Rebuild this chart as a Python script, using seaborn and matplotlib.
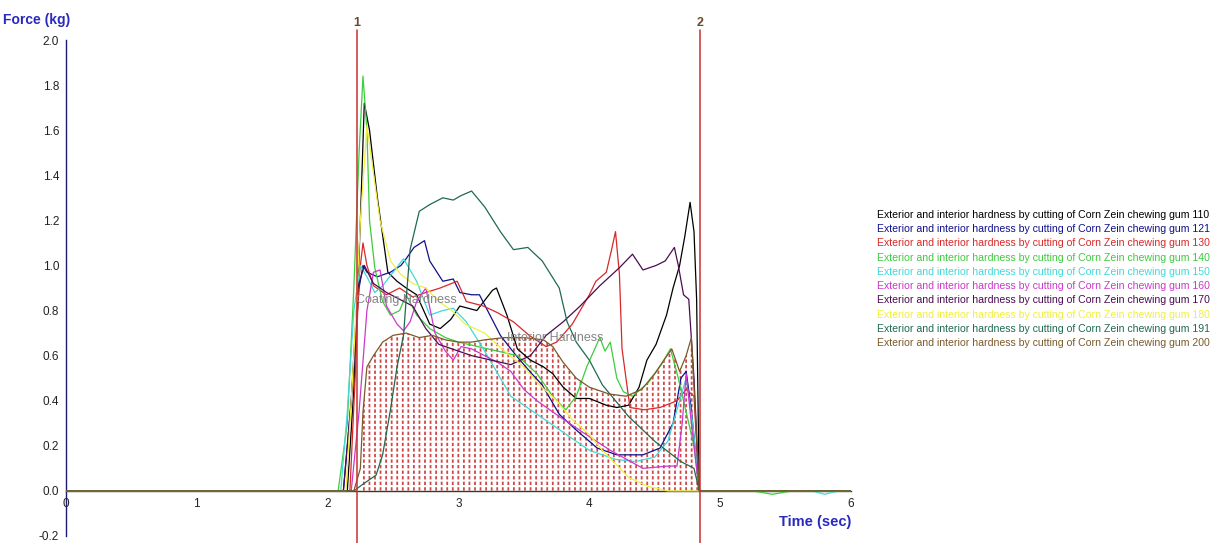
import numpy as np
import pandas as pd
import seaborn as sns
import matplotlib
matplotlib.use("Agg")
import matplotlib.pyplot as plt

# ---- data (time in sec, force in kg) ----
t110 = [0, 2.15, 2.2, 2.25, 2.28, 2.32, 2.38, 2.46, 2.53, 2.6, 2.68, 2.78, 2.86, 2.94, 3.01, 3.14, 3.26, 3.29,
        3.37, 3.45, 3.55, 3.65, 3.72, 3.8, 3.9, 4.0, 4.13, 4.21, 4.3, 4.38, 4.44, 4.51, 4.59, 4.64, 4.69, 4.73,
        4.77, 4.8, 4.82, 4.84, 6]
f110 = [0, 0, 0.45, 1.2, 1.72, 1.6, 1.3, 0.97, 0.93, 0.9, 0.87, 0.74, 0.72, 0.76, 0.82, 0.8, 0.89, 0.9,
        0.78, 0.63, 0.58, 0.55, 0.52, 0.46, 0.41, 0.41, 0.38, 0.37, 0.38, 0.46, 0.58, 0.65, 0.78, 0.9, 1.0, 1.13,
        1.28, 1.15, 0.85, 0, 0]

t121 = [0, 2.12, 2.18, 2.24, 2.27, 2.3, 2.38, 2.48, 2.56, 2.6, 2.66, 2.74, 2.78, 2.88, 2.96, 3.01, 3.1, 3.16,
        3.24, 3.32, 3.4, 3.47, 3.56, 3.64, 3.77, 3.9, 4.06, 4.21, 4.41, 4.54, 4.64, 4.7, 4.74, 4.78, 4.84, 6]
f121 = [0, 0, 0.4, 0.9, 1.0, 0.97, 0.95, 0.97, 1.0, 1.03, 1.08, 1.11, 1.02, 0.93, 0.94, 0.88, 0.87, 0.87,
        0.78, 0.69, 0.63, 0.58, 0.52, 0.47, 0.34, 0.27, 0.19, 0.16, 0.16, 0.19, 0.3, 0.5, 0.53, 0.36, 0, 0]

t130 = [0, 2.17, 2.21, 2.24, 2.27, 2.3, 2.35, 2.45, 2.55, 2.65, 2.75, 2.86, 2.99, 3.06, 3.19, 3.3, 3.42, 3.54,
        3.67, 3.75, 3.87, 4.0, 4.05, 4.13, 4.17, 4.2, 4.23, 4.25, 4.31, 4.42, 4.54, 4.67, 4.74, 4.8, 4.84, 6]
f130 = [0, 0, 0.5, 0.95, 1.1, 1.0, 0.91, 0.87, 0.9, 0.86, 0.88, 0.9, 0.93, 0.84, 0.82, 0.79, 0.75, 0.69,
        0.64, 0.66, 0.74, 0.87, 0.93, 0.97, 1.07, 1.15, 0.96, 0.63, 0.37, 0.36, 0.37, 0.4, 0.45, 0.42, 0, 0]

t140 = [0, 2.08, 2.15, 2.2, 2.24, 2.27, 2.3, 2.32, 2.36, 2.42, 2.48, 2.55, 2.6, 2.68, 2.78, 2.9, 3.0, 3.15,
        3.3, 3.45, 3.6, 3.72, 3.82, 3.9, 3.98, 4.08, 4.12, 4.16, 4.21, 4.26, 4.33, 4.45, 4.55, 4.62, 4.68, 4.74,
        4.8, 4.84, 5.25, 5.4, 5.55, 6]
f140 = [0, 0, 0.3, 0.9, 1.5, 1.84, 1.6, 1.2, 0.99, 0.84, 0.78, 0.8, 0.87, 0.78, 0.72, 0.68, 0.66, 0.64,
        0.62, 0.6, 0.52, 0.42, 0.36, 0.42, 0.55, 0.68, 0.62, 0.66, 0.5, 0.44, 0.42, 0.48, 0.56, 0.63, 0.5, 0.35,
        0.2, 0, 0, -0.015, 0, 0]

t150 = [0, 2.1, 2.15, 2.2, 2.25, 2.3, 2.36, 2.42, 2.5, 2.58, 2.68, 2.78, 2.88, 2.96, 3.06, 3.2, 3.3, 3.4,
        3.55, 3.7, 3.85, 4.0, 4.2, 4.35, 4.5, 4.6, 4.68, 4.74, 4.79, 4.84, 5.7, 5.8, 5.9, 6]
f150 = [0, 0, 0.35, 0.8, 1.0, 0.95, 0.88, 0.91, 0.97, 1.03, 0.93, 0.78, 0.8, 0.81, 0.75, 0.62, 0.52, 0.42,
        0.36, 0.3, 0.24, 0.18, 0.14, 0.13, 0.15, 0.22, 0.38, 0.5, 0.3, 0, 0, -0.015, 0, 0]

t160 = [0, 2.18, 2.24, 2.3, 2.35, 2.4, 2.45, 2.53, 2.58, 2.63, 2.68, 2.75, 2.82, 2.9, 2.96, 3.02, 3.1, 3.2,
        3.3, 3.4, 3.5, 3.6, 3.77, 3.95, 4.16, 4.41, 4.6, 4.67, 4.71, 4.74, 4.78, 4.84, 6]
f160 = [0, 0, 0.35, 0.8, 0.97, 0.98, 0.82, 0.74, 0.71, 0.75, 0.84, 0.9, 0.7, 0.62, 0.58, 0.64, 0.63, 0.6,
        0.57, 0.53, 0.45, 0.4, 0.33, 0.26, 0.18, 0.1, 0.11, 0.11, 0.3, 0.52, 0.3, 0, 0]

t170 = [0, 2.12, 2.18, 2.23, 2.28, 2.35, 2.45, 2.55, 2.65, 2.75, 2.85, 2.95, 3.1, 3.25, 3.4, 3.55, 3.67, 3.8,
        3.93, 4.08, 4.23, 4.33, 4.41, 4.51, 4.58, 4.65, 4.68, 4.72, 4.76, 4.8, 4.84, 6]
f170 = [0, 0, 0.4, 0.9, 1.0, 0.92, 0.88, 0.85, 0.82, 0.72, 0.65, 0.63, 0.6, 0.58, 0.56, 0.6, 0.69, 0.75,
        0.82, 0.91, 0.99, 1.05, 0.98, 1.0, 1.02, 1.08, 1.0, 0.87, 0.85, 0.5, 0, 0]

t180 = [0, 2.14, 2.2, 2.25, 2.3, 2.34, 2.4, 2.48, 2.56, 2.65, 2.75, 2.85, 2.95, 3.05, 3.2, 3.35, 3.5, 3.62,
        3.75, 3.88, 4.0, 4.1, 4.2, 4.3, 4.45, 4.6, 6]
f180 = [0, 0, 0.6, 1.2, 1.62, 1.45, 1.2, 1.02, 0.96, 0.92, 0.9, 0.84, 0.8, 0.74, 0.7, 0.62, 0.55, 0.47,
        0.4, 0.31, 0.25, 0.18, 0.12, 0.06, 0.02, 0, 0]

t191 = [0, 2.2, 2.27, 2.37, 2.42, 2.48, 2.53, 2.58, 2.6, 2.63, 2.7, 2.78, 2.88, 2.96, 3.02, 3.1, 3.2, 3.32,
        3.42, 3.53, 3.64, 3.77, 3.83, 3.9, 4.0, 4.1, 4.2, 4.3, 4.5, 4.7, 4.8, 4.84, 6]
f191 = [0, 0, 0.03, 0.07, 0.16, 0.36, 0.55, 0.69, 0.85, 1.07, 1.24, 1.27, 1.3, 1.29, 1.31, 1.33, 1.26, 1.15,
        1.07, 1.08, 1.02, 0.9, 0.75, 0.66, 0.58, 0.47, 0.4, 0.33, 0.22, 0.13, 0.1, 0, 0]

t200 = [0, 2.2, 2.25, 2.27, 2.3, 2.35, 2.42, 2.5, 2.6, 2.7, 2.8, 2.9, 3.0, 3.1, 3.2, 3.35, 3.5, 3.65, 3.72,
        3.8, 3.9, 4.0, 4.15, 4.28, 4.4, 4.5, 4.57, 4.63, 4.69, 4.74, 4.78, 4.81, 4.84, 6]
f200 = [0, 0, 0.1, 0.35, 0.55, 0.6, 0.66, 0.69, 0.7, 0.68, 0.69, 0.67, 0.66, 0.66, 0.67, 0.68, 0.68, 0.67, 0.64,
        0.57, 0.5, 0.46, 0.43, 0.42, 0.45, 0.52, 0.58, 0.63, 0.53, 0.6, 0.68, 0.35, 0, 0]

samples = ["110", "121", "130", "140", "150", "160", "170", "180", "191", "200"]
times = [t110, t121, t130, t140, t150, t160, t170, t180, t191, t200]
forces = [f110, f121, f130, f140, f150, f160, f170, f180, f191, f200]
colors = ["#000000", "#10108a", "#d82828", "#3ccc3c", "#40d8d8", "#cc38cc",
          "#4a0c50", "#f0f040", "#1f6a4e", "#7a5a2a"]

markers = [2.223, 4.843]
marker_labels = ["1", "2"]
prefix = "Exterior and interior hardness by cutting of Corn Zein chewing gum "

rows = []
for s, tt, ff in zip(samples, times, forces):
    for a, b in zip(tt, ff):
        rows.append({"Time (sec)": a, "Force (kg)": b, "Sample": prefix + s})
df = pd.DataFrame(rows)

# ---- plot ----
sns.set_style("white")
plt.rcParams["font.family"] = ["Liberation Sans", "DejaVu Sans"]

fig = plt.figure(figsize=(12.27, 5.43), dpi=100)
ax = fig.add_axes([66 / 1227, 1 - 536 / 543, 785 / 1227, 496 / 543])

# hatched area under the last curve between the markers
t_area = np.array(t200)
f_area = np.array(f200)
m = (t_area >= markers[0]) & (t_area <= markers[1])
with plt.rc_context({"hatch.linewidth": 1.3}):
    ax.fill_between(t_area[m], 0, f_area[m], facecolor="none", edgecolor="#d04848",
                    hatch="|||", linewidth=0, zorder=1)
with plt.rc_context({"hatch.linewidth": 1.6}):
    ax.fill_between(t_area[m], 0, f_area[m], facecolor="none", edgecolor="white",
                    hatch="---", linewidth=0, zorder=1.5)

sns.lineplot(data=df, x="Time (sec)", y="Force (kg)", hue="Sample",
             palette=dict(zip([prefix + s for s in samples], colors)),
             estimator=None, sort=False, lw=0.9, ax=ax, zorder=3)

for x, lab in zip(markers, marker_labels):
    ax.axvline(x, ymin=-0.02, ymax=1.02, color="#c83030", lw=1.1, clip_on=False, zorder=4)
    ax.text(x, 2.05, lab, ha="center", va="bottom", fontsize=9, fontweight="bold",
            color="#6a4a2a")

ax.text(2.22, 0.846, "Coating Hardness", color="#858585", fontsize=9, va="center", ha="left", zorder=5)
ax.text(3.37, 0.68, "Interior Hardness", color="#858585", fontsize=9, va="center", ha="left", zorder=5)

ax.set_xlim(0, 6)
ax.set_ylim(-0.2, 2.0)
ax.set_xticks(range(0, 7))
ax.set_yticks(np.round(np.arange(-0.2, 2.01, 0.2), 1))
ax.set_yticklabels([f"{v:.1f}" for v in np.arange(-0.2, 2.01, 0.2)])
ax.set_xlabel("")
ax.set_ylabel("")

ax.spines["top"].set_visible(False)
ax.spines["right"].set_visible(False)
ax.spines["bottom"].set_position(("data", 0))
ax.spines["bottom"].set_color("#3a3a20")
ax.spines["left"].set_color("#1a1a70")
ax.spines["bottom"].set_linewidth(1.0)
ax.spines["left"].set_linewidth(1.0)
ax.tick_params(axis="x", direction="out", length=4, width=0.8, color="#3a3a20",
               labelsize=8.5, labelcolor="#222222", pad=1)
ax.tick_params(axis="y", direction="out", length=4, width=0.8, color="#1a1a70",
               labelsize=8.5, labelcolor="#222222", pad=1)
ax.set_facecolor("white")

fig.text(3 / 1227, 1 - 20 / 543, "Force (kg)", color="#2a2ac0", fontsize=10,
         fontweight="bold", va="center", ha="left")
fig.text(851 / 1227, 1 - 522 / 543, "Time (sec)", color="#2a2ac0", fontsize=10.5,
         fontweight="bold", va="center", ha="right")

leg = ax.legend(loc="upper left", bbox_to_anchor=(877 / 1227, 1 - 210 / 543),
                bbox_transform=fig.transFigure, frameon=False, handlelength=0,
                handletextpad=0, labelcolor="linecolor", borderpad=0, borderaxespad=0,
                labelspacing=0.40,
                prop={"family": ["Liberation Sans", "DejaVu Sans"], "size": 7.6})
for h in leg.legend_handles:
    h.set_visible(False)

fig.savefig("out.png", dpi=100, facecolor="white")
